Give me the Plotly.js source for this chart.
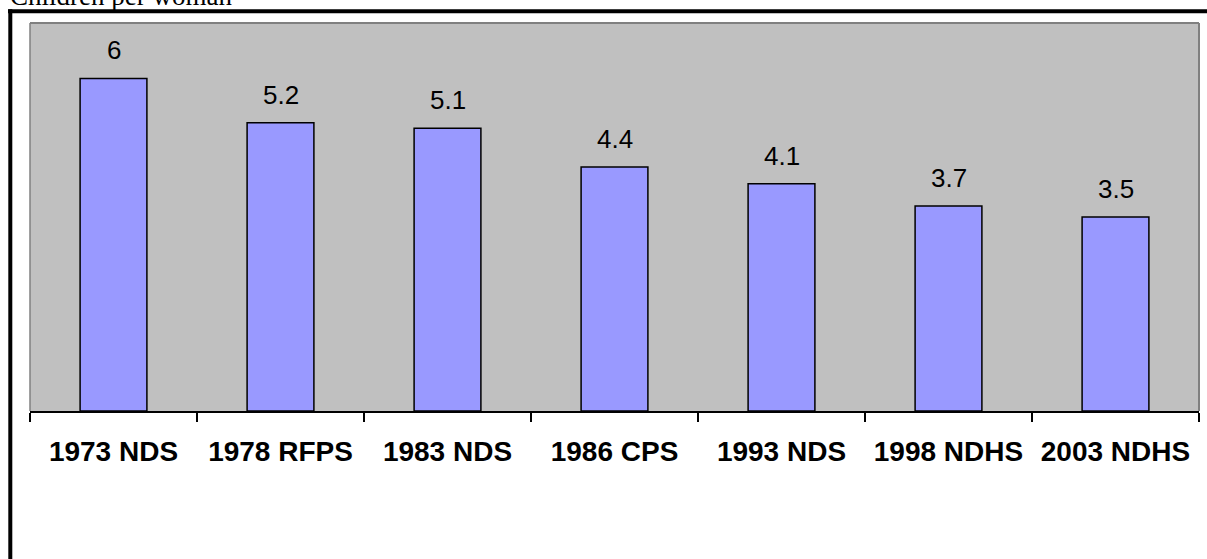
<!DOCTYPE html>
<html>
<head>
<meta charset="utf-8">
<script src="https://cdn.plot.ly/plotly-3.0.1.min.js"></script>
<style>
html,body{margin:0;padding:0;background:#fff;}
#chart{width:1207px;height:559px;}
</style>
</head>
<body>
<div id="chart"></div>
<script>
var categories = ["1973 NDS", "1978 RFPS", "1983 NDS", "1986 CPS", "1993 NDS", "1998 NDHS", "2003 NDHS"];
var childrenPerWoman = [6, 5.2, 5.1, 4.4, 4.1, 3.7, 3.5];
var valueLabels = ["6", "5.2", "5.1", "4.4", "4.1", "3.7", "3.5"];
var titleText = "Children per woman";

var W = 1207, H = 559;
var mL = 30, mR = 8, mT = 23, mB = 148;
var pw = W - mL - mR, ph = H - mT - mB;
function px(x){ return (x - mL) / pw; }
function py(y){ return (H - mB - y) / ph; }

var trace = {
  type: "bar",
  x: categories,
  y: childrenPerWoman,
  marker: {color: "#9999FF", line: {color: "#000000", width: 1.5}},
  hoverinfo: "x+y"
};

var annotations = categories.map(function(c, i){
  return {
    x: c, y: childrenPerWoman[i], xref: "x", yref: "y",
    text: valueLabels[i], showarrow: false,
    yanchor: "bottom", yshift: 11,
    font: {family: "Arial, 'Liberation Sans', sans-serif", size: 26, color: "#000"}
  };
});
annotations.push({
  x: px(8), y: py(13), xref: "paper", yref: "paper",
  xanchor: "left", yanchor: "bottom", showarrow: false,
  text: titleText,
  font: {family: "'Liberation Serif', 'Times New Roman', serif", size: 27, color: "#000"}
});

var shapes = [
  // plot area gray border (left, top, right)
  {type: "line", xref: "paper", yref: "paper", x0: 0, x1: 0, y0: 0, y1: 1, line: {color: "#808080", width: 1.5}},
  {type: "line", xref: "paper", yref: "paper", x0: 0, x1: 1, y0: 1, y1: 1, line: {color: "#808080", width: 2}},
  {type: "line", xref: "paper", yref: "paper", x0: 1, x1: 1, y0: 0, y1: 1, line: {color: "#808080", width: 2}},
  // outer black frame (top and left)
  {type: "line", xref: "paper", yref: "paper", x0: px(8), x1: px(1215), y0: py(11.3), y1: py(11.3), line: {color: "#000", width: 4}},
  {type: "line", xref: "paper", yref: "paper", x0: px(10.3), x1: px(10.3), y0: py(9.3), y1: py(600), line: {color: "#000", width: 4}}
];

var layout = {
  width: W, height: H,
  margin: {l: mL, r: mR, t: mT, b: mB, pad: 0},
  paper_bgcolor: "#ffffff",
  plot_bgcolor: "#C0C0C0",
  bargap: 0.6,
  showlegend: false,
  xaxis: {
    type: "category",
    showline: true, linecolor: "#000", linewidth: 2,
    ticks: "outside", tickson: "boundaries", ticklen: 9, tickwidth: 2, tickcolor: "#000",
    showgrid: false, zeroline: false,
    ticklabelstandoff: 14,
    tickfont: {family: "Arial, 'Liberation Sans', sans-serif", size: 28, color: "#000", weight: "bold"}
  },
  yaxis: {
    range: [0, 7],
    showgrid: false, zeroline: false, showline: false,
    showticklabels: false, ticks: ""
  },
  annotations: annotations,
  shapes: shapes
};

Plotly.newPlot("chart", [trace], layout, {displayModeBar: false, staticPlot: true});
</script>
</body>
</html>
